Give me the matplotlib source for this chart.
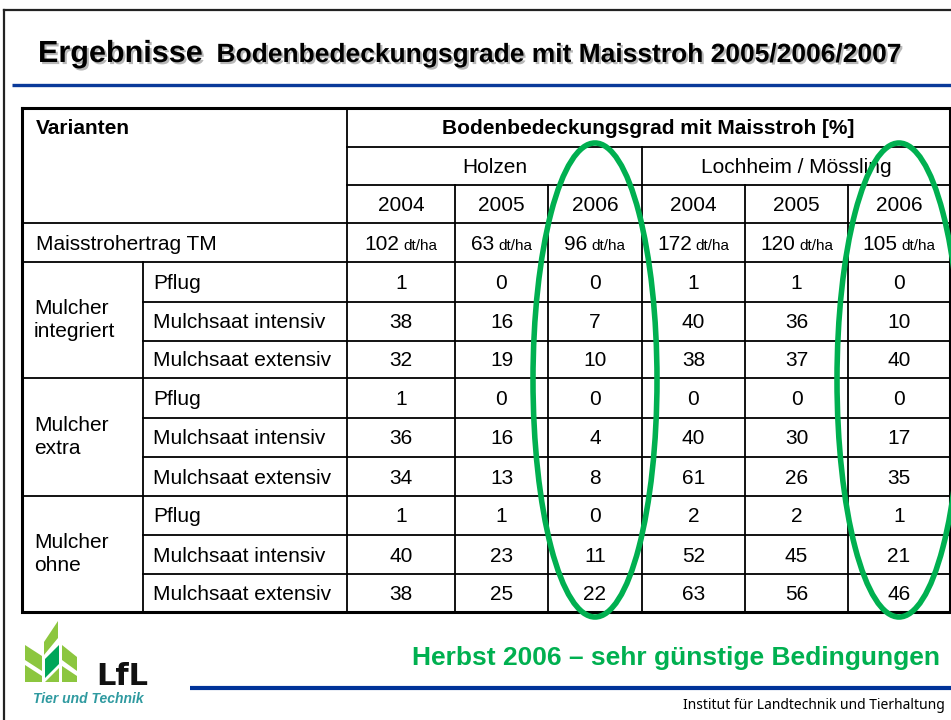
import matplotlib
matplotlib.use("Agg")
import matplotlib.pyplot as plt
import matplotlib.patheffects as pe
from matplotlib.patches import Ellipse, Polygon

plt.rcParams['font.family'] = ['Liberation Sans', 'DejaVu Sans']

# --- Daten ---
standorte = ['Holzen', 'Lochheim / Mössling']
jahre = ['2004', '2005', '2006']
ertrag = [102, 63, 96, 172, 120, 105]  # Maisstrohertrag TM in dt/ha
gruppen = ['Mulcher\nintegriert', 'Mulcher\nextra', 'Mulcher\nohne']
verfahren = ['Pflug', 'Mulchsaat intensiv', 'Mulchsaat extensiv']
integriert = [[1, 0, 0, 1, 1, 0],
              [38, 16, 7, 40, 36, 10],
              [32, 19, 10, 38, 37, 40]]
extra = [[1, 0, 0, 0, 0, 0],
         [36, 16, 4, 40, 30, 17],
         [34, 13, 8, 61, 26, 35]]
ohne = [[1, 1, 0, 2, 2, 1],
        [40, 23, 11, 52, 45, 21],
        [38, 25, 22, 63, 56, 46]]
werte = [integriert, extra, ohne]
markiert = ['2006']  # eingekreiste Jahre

# --- Layout (Pixel) ---
W, H = 951, 720
x_cols = [22, 143, 347, 455, 548, 642, 745, 848, 950]
y_rows = [108, 147, 185, 223, 262, 302, 341, 378, 418, 457, 496, 535, 574, 612]
FS = 15
GREEN = '#00b050'
BLUE = '#0a3a9a'

fig = plt.figure(figsize=(W / 100, H / 100), dpi=100)
ax = fig.add_axes([0, 0, 1, 1])
ax.set_xlim(0, W)
ax.set_ylim(H, 0)
ax.axis('off')
r = fig.canvas.get_renderer()

# Rahmen der Folie
ax.plot([4, W], [10, 10], color='#222222', lw=1.6)
ax.plot([4, 4], [10, H], color='#222222', lw=1.6)

# Titel
shadow = [pe.withSimplePatchShadow(offset=(1.5, -1.5), shadow_rgbFace='#888888', alpha=0.6)]
t = ax.text(38, 62, 'Ergebnisse', fontsize=22, fontweight='bold', va='baseline',
            path_effects=shadow)
w = t.get_window_extent(r).width
ax.text(38 + w + 14, 62, 'Bodenbedeckungsgrade mit Maisstroh 2005/2006/2007',
        fontsize=19, fontweight='bold', va='baseline', path_effects=shadow)
ax.plot([12, W], [85, 85], color=BLUE, lw=2.4, solid_capstyle='butt')

# Tabelle: Linien
thin = dict(color='black', lw=1.3, solid_capstyle='projecting')
left, right = x_cols[0], x_cols[-1]
top, bottom = y_rows[0], y_rows[-1]
full_rows = (y_rows[3], y_rows[4], y_rows[7], y_rows[10])
for yy in y_rows[1:3]:
    ax.plot([x_cols[2], right], [yy, yy], **thin)
for yy in y_rows[3:-1]:
    ax.plot([left if yy in full_rows else x_cols[1], right], [yy, yy], **thin)
ax.plot([x_cols[1], x_cols[1]], [y_rows[4], bottom], **thin)
ax.plot([x_cols[2], x_cols[2]], [top, bottom], **thin)
ax.plot([x_cols[5], x_cols[5]], [y_rows[1], bottom], **thin)
for xx in (x_cols[3], x_cols[4], x_cols[6], x_cols[7]):
    ax.plot([xx, xx], [y_rows[2], bottom], **thin)
ax.plot([left, right, right, left, left], [top, top, bottom, bottom, top],
        color='black', lw=2.2, solid_joinstyle='miter')


def mid(a, b):
    return (a + b) / 2


def base(i):
    return mid(y_rows[i], y_rows[i + 1]) + 7


col_centers = [mid(x_cols[i], x_cols[i + 1]) for i in range(2, 8)]

# Kopfzeilen
ax.text(36, base(0), 'Varianten', fontsize=FS, fontweight='bold', va='baseline')
ax.text(mid(x_cols[2], right), base(0), 'Bodenbedeckungsgrad mit Maisstroh [%]',
        fontsize=FS, fontweight='bold', va='baseline', ha='center')
ax.text(mid(x_cols[2], x_cols[5]), base(1), standorte[0], fontsize=FS, va='baseline', ha='center')
ax.text(mid(x_cols[5], right), base(1), standorte[1], fontsize=FS, va='baseline', ha='center')
for i, cx in enumerate(col_centers):
    ax.text(cx, base(2), jahre[i % 3], fontsize=FS, va='baseline', ha='center')

# Ertragszeile
ax.text(36, base(3), 'Maisstrohertrag TM', fontsize=FS, va='baseline')
for cx, v in zip(col_centers, ertrag):
    t1 = ax.text(0, base(3), str(v), fontsize=FS, va='baseline')
    t2 = ax.text(0, base(3), 'dt/ha', fontsize=11, va='baseline')
    w1 = t1.get_window_extent(r).width
    w2 = t2.get_window_extent(r).width
    gap = 4
    x0 = cx - (w1 + gap + w2) / 2
    t1.set_x(x0)
    t2.set_x(x0 + w1 + gap)

# Variantenzeilen
for g, (name, block) in enumerate(zip(gruppen, werte)):
    r0 = 4 + 3 * g
    ax.text(34, mid(y_rows[r0], y_rows[r0 + 3]), name, fontsize=FS, va='center',
            linespacing=1.25)
    for k, (vf, zeile) in enumerate(zip(verfahren, block)):
        ax.text(x_cols[1] + 10, base(r0 + k), vf, fontsize=FS, va='baseline')
        for cx, v in zip(col_centers, zeile):
            ax.text(cx, base(r0 + k), str(v), fontsize=FS, va='baseline', ha='center')

# Markierung der Jahre 2006
for i, cx in enumerate(col_centers):
    if jahre[i % 3] in markiert:
        ax.add_patch(Ellipse((cx, 380), 124, 474, fill=False, edgecolor=GREEN,
                             lw=4, zorder=5))

# Fusszeile
ax.text(940, 665, 'Herbst 2006 – sehr günstige Bedingungen', fontsize=19,
        fontweight='bold', color=GREEN, ha='right', va='baseline')
ax.plot([190, W], [688, 688], color='#003399', lw=3, solid_capstyle='butt')
ax.text(945, 709, 'Institut für Landtechnik und Tierhaltung', fontsize=10,
        family=['Noto Sans', 'DejaVu Sans'], ha='right', va='baseline')

# Logo
light, dark = '#8cc63f', '#00a65a'
logo = [
    ([(25, 645), (42, 656), (42, 671), (25, 660)], light),
    ([(25, 665), (42, 676), (42, 682), (25, 682)], light),
    ([(44, 642), (58, 621), (58, 638), (44, 655)], light),
    ([(45, 659), (59, 645), (59, 664), (45, 678)], dark),
    ([(45, 682), (59, 668), (59, 682)], light),
    ([(62, 645), (77, 657), (77, 671), (62, 660)], light),
    ([(62, 666), (77, 676), (77, 682), (62, 682)], light),
]
for pts, c in logo:
    ax.add_patch(Polygon(pts, color=c, lw=0))
ax.text(96, 685, 'LfL', fontsize=22, fontweight='bold', family=['DejaVu Sans'],
        va='baseline', color='#111111')
ax.text(33, 703, 'Tier und Technik', fontsize=10, fontweight='bold', style='italic',
        color='#2f9aa0', va='baseline')

fig.savefig('out.png', dpi=100)
